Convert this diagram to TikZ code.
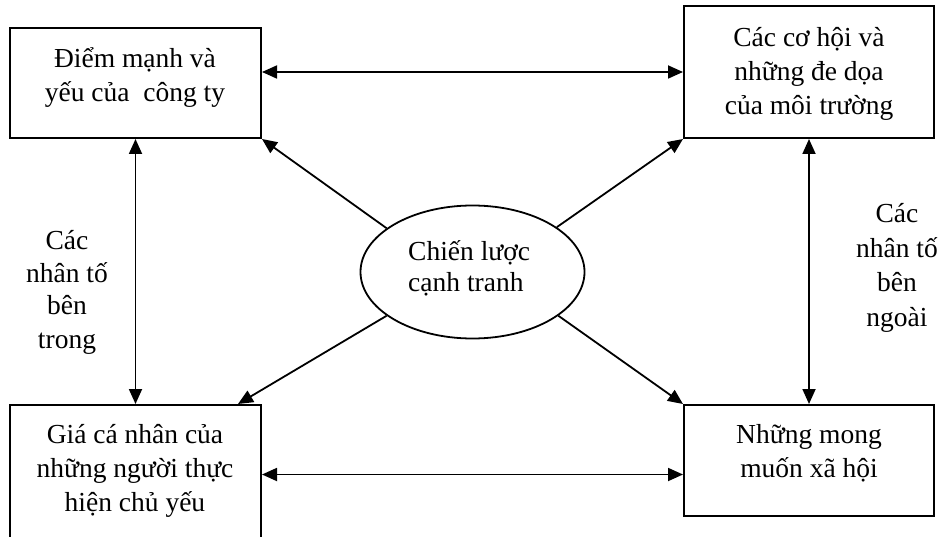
\documentclass[tikz,border=0pt]{standalone}
\usepackage{fontspec}
\setmainfont{Liberation Serif}
\usetikzlibrary{arrows.meta,shapes.geometric}
% stacked lines whose baseline is the first line's baseline
\newcommand\mlines[2][c]{\begin{tabular}[t]{@{}#1@{}}#2\end{tabular}}
\tikzset{
  box/.style={draw, line width=2pt, rectangle, inner sep=0pt},
  txt/.style={inner sep=0pt, anchor=base, font=\fontsize{27.5}{34}\selectfont},
  tip/.tip={Triangle[length=15pt,width=13pt]},
  link/.style={line width=1.8pt, -tip},
  biarrow/.style={line width=1.8pt, tip-tip},
}
\begin{document}
\begin{tikzpicture}[x=1pt,y=-1pt]
\useasboundingbox (0,0) rectangle (944,537);
\clip (0,0) rectangle (944,537);

% four boxes
\node[box, minimum width=251pt, minimum height=110pt] (tl) at (135.5,83) {};
\node[box, minimum width=250pt, minimum height=132pt] (tr) at (809,72) {};
\node[box, minimum width=251pt, minimum height=160pt] (bl) at (135.5,485) {};
\node[box, minimum width=250pt, minimum height=111pt] (br) at (809,460.5) {};

% central ellipse
\node[draw, ellipse, line width=1.8pt, minimum width=224pt, minimum height=133pt, inner sep=0pt] (core) at (472.5,272) {};

% texts
\node[txt] (tlt) at (135,68) {\mlines{Điểm mạnh và\\yếu của \ công ty}};
\node[txt] (trt) at (809,47) {\mlines{Các cơ hội và\\những đe dọa\\của môi trường}};
\node[txt] (blt) at (135,443) {\mlines{Giá cá nhân của\\những người thực\\hiện chủ yếu}};
\node[txt] (brt) at (809,443) {\mlines{Những mong\\muốn xã hội}};
\node[txt, anchor=base west, font=\fontsize{27.5}{32}\selectfont] (coret) at (408,260) {\mlines[l]{Chiến lược\\cạnh tranh}};

\begin{scope}
  \clip (0,0) rectangle (200,354);
  \node[txt, font=\fontsize{27.5}{33}\selectfont] (inner) at (67,249) {\mlines{Các\\nhân tố\\bên\\trong}};
\end{scope}
\node[txt, font=\fontsize{27.5}{34.5}\selectfont] (outer) at (897,223) {\mlines{Các\\nhân tố\\bên\\ngoài}};

% two-way links between boxes
\draw[biarrow] ([yshift=11pt]tl.east) -- (tr.west);
\coordinate (bmid) at ([yshift=10.5pt]bl.east);
\draw[biarrow] (bmid) -- (bmid -| br.west);
\draw[biarrow] (tl.south) -- (bl.north);
\draw[biarrow] (tr.south) -- (br.north);

% links from the strategy
\draw[link] (core.153) -- (tl.south east);
\draw[link] (core.28) -- (tr.south west);
\draw[link] (core.207) -- ([xshift=-24pt]bl.north east);
\draw[link] (core.333) -- (br.north west);
\end{tikzpicture}
\end{document}
